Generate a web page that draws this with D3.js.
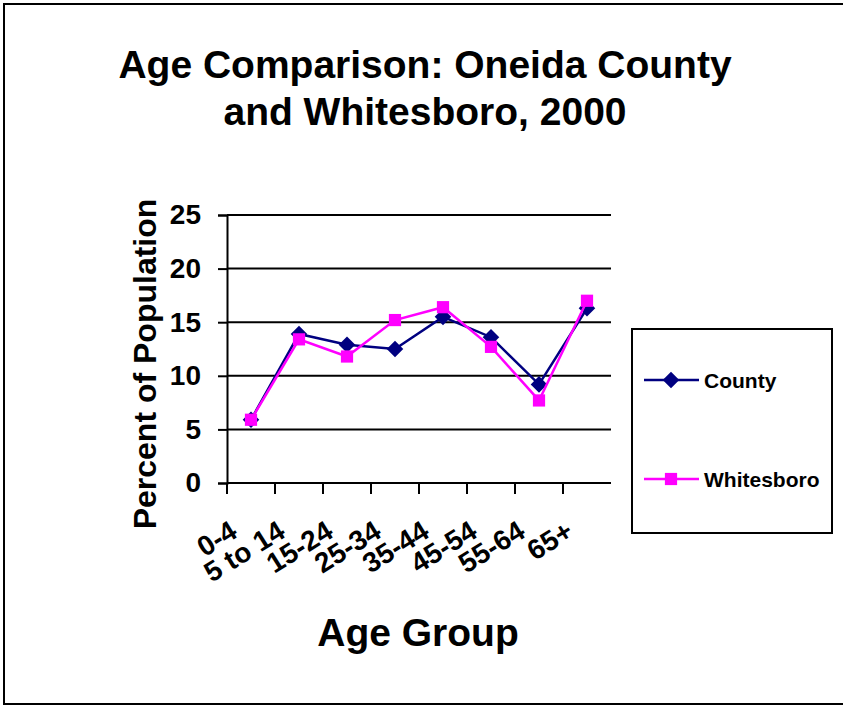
<!DOCTYPE html>
<html>
<head>
<meta charset="utf-8">
<script src="https://cdn.jsdelivr.net/npm/d3@7"></script>
<style>
  html, body { margin: 0; padding: 0; background: #fff; }
  svg { display: block; }
  text { font-family: "Liberation Sans", Arial, sans-serif; font-weight: bold; fill: #000; }
</style>
</head>
<body>
<script>
// Age groups along the x axis
const categories = ["0-4", "5 to 14", "15-24", "25-34", "35-44", "45-54", "55-64", "65+"];
// Percent of population in each age group
const countyValues = [5.9, 13.9, 12.9, 12.5, 15.5, 13.6, 9.2, 16.3];
const whitesboroValues = [5.9, 13.4, 11.8, 15.2, 16.4, 12.7, 7.7, 17.0];
const yTicks = [0, 5, 10, 15, 20, 25];
const titleLines = ["Age Comparison: Oneida County", "and Whitesboro, 2000"];

const seriesList = [
  { name: "County", values: countyValues, color: "#000080", marker: d3.symbolDiamond2, size: 175 },
  { name: "Whitesboro", values: whitesboroValues, color: "#FF00FF", marker: d3.symbolSquare2, size: 190 }
];

const W = 843, H = 706;
const svg = d3.select("body").append("svg").attr("width", W).attr("height", H);

// outer frame
svg.append("rect")
  .attr("x", 4).attr("y", 4).attr("width", W + 10).attr("height", 700)
  .attr("fill", "#fff").attr("stroke", "#000").attr("stroke-width", 2);

// title
svg.append("g").selectAll("text").data(titleLines).join("text")
  .attr("x", 425).attr("y", (d, i) => 78 + i * 47)
  .attr("text-anchor", "middle")
  .style("font-size", "39px")
  .text(d => d);

const x = d3.scaleBand().domain(categories).range([227, 611]);
const y = d3.scaleLinear().domain([0, 25]).range([483, 215]);

// horizontal grid lines
svg.append("g").selectAll("line").data(yTicks.filter(t => t > 0)).join("line")
  .attr("x1", x.range()[0]).attr("x2", x.range()[1])
  .attr("y1", d => y(d)).attr("y2", d => y(d))
  .attr("stroke", "#000").attr("stroke-width", 2);

// y axis
const yAxis = svg.append("g")
  .attr("transform", `translate(${x.range()[0]},0)`)
  .call(d3.axisLeft(y).tickValues(yTicks).tickSize(9).tickPadding(17).tickFormat(d3.format("d")));
yAxis.select(".domain").attr("stroke", "#000").attr("stroke-width", 2);
yAxis.selectAll(".tick line").attr("stroke", "#000").attr("stroke-width", 2);
yAxis.selectAll(".tick text")
  .style("font-size", "28px").style("font-family", "Liberation Sans, Arial, sans-serif")
  .style("font-weight", "bold").attr("fill", "#000");

// x axis with ticks between categories
const xAxisG = svg.append("g").attr("transform", `translate(0,${y(0)})`);
xAxisG.append("line")
  .attr("x1", x.range()[0]).attr("x2", x.range()[1])
  .attr("stroke", "#000").attr("stroke-width", 2);
const boundaries = categories.map(c => x(c));
xAxisG.selectAll("line.tk").data(boundaries).join("line")
  .attr("class", "tk")
  .attr("x1", d => d).attr("x2", d => d)
  .attr("y1", 0).attr("y2", 11)
  .attr("stroke", "#000").attr("stroke-width", 2);
xAxisG.selectAll("text").data(categories).join("text")
  .attr("transform", d => `translate(${x(d) + x.bandwidth() / 2 - 12},53) rotate(-32)`)
  .attr("text-anchor", "end")
  .style("font-size", "28px")
  .text(d => d);

// axis titles
svg.append("text")
  .attr("transform", `translate(156,364) rotate(-90)`)
  .attr("text-anchor", "middle")
  .style("font-size", "32px")
  .text("Percent of Population");

svg.append("text")
  .attr("x", 418).attr("y", 646)
  .attr("text-anchor", "middle")
  .style("font-size", "39px")
  .text("Age Group");

// series lines and markers
const line = d3.line()
  .x((d, i) => x(categories[i]) + x.bandwidth() / 2)
  .y(d => y(d));

seriesList.forEach(s => {
  const g = svg.append("g");
  g.append("path")
    .attr("d", line(s.values))
    .attr("fill", "none").attr("stroke", s.color).attr("stroke-width", 2.5);
  g.selectAll("path.mk").data(s.values).join("path")
    .attr("class", "mk")
    .attr("d", d3.symbol().type(s.marker).size(s.size))
    .attr("transform", (d, i) => `translate(${x(categories[i]) + x.bandwidth() / 2},${y(d)})`)
    .attr("fill", s.color);
});

// legend
const legend = svg.append("g");
legend.append("rect")
  .attr("x", 632).attr("y", 329).attr("width", 200).attr("height", 204)
  .attr("fill", "#fff").attr("stroke", "#000").attr("stroke-width", 2);
const items = legend.selectAll("g.item").data(seriesList).join("g")
  .attr("class", "item")
  .attr("transform", (d, i) => `translate(0,${380 + i * 99})`);
items.append("line")
  .attr("x1", 644).attr("x2", 699)
  .attr("stroke", d => d.color).attr("stroke-width", 2.5);
items.append("path")
  .attr("d", d => d3.symbol().type(d.marker).size(d.size)())
  .attr("transform", "translate(671,0)")
  .attr("fill", d => d.color);
items.append("text")
  .attr("x", 704).attr("y", 0).attr("dy", "0.36em")
  .style("font-size", "21px")
  .text(d => d.name);
</script>
</body>
</html>
